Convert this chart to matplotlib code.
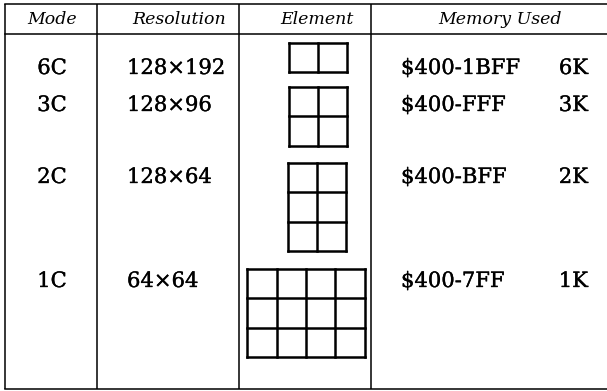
import matplotlib
matplotlib.use("Agg")
import matplotlib.pyplot as plt
import matplotlib.patheffects as pe

# ---- data ----
headers = ["Mode", "Resolution", "Element", "Memory Used"]
modes = ["6C", "3C", "2C", "1C"]
resolutions = ["128\u00d7192", "128\u00d796", "128\u00d764", "64\u00d764"]
element_cols = [2, 2, 2, 4]
element_rows = [1, 2, 3, 3]
memory_ranges = ["$400-1BFF", "$400-FFF", "$400-BFF", "$400-7FF"]
memory_sizes = ["6K", "3K", "2K", "1K"]

# ---- layout (pixel coordinates) ----
W, H = 607, 391
fig = plt.figure(figsize=(W / 100, H / 100), dpi=100)
ax = fig.add_axes([0, 0, 1, 1])
ax.set_xlim(0, W)
ax.set_ylim(H, 0)
ax.axis("off")

col_x = [5, 97, 239, 371]
top_y, head_y, bot_y = 4, 34, 389
lw_tab = 1.1
for x in col_x:
    ax.plot([x, x], [top_y, bot_y], color="black", lw=lw_tab, solid_capstyle="butt")
for y in (top_y, head_y, bot_y):
    ax.plot([col_x[0], W], [y, y], color="black", lw=lw_tab)

font = "DejaVu Serif"
thick = [pe.withStroke(linewidth=0.25, foreground="black")]
head_cx = [52, 179, 317, 500]
for h, cx in zip(headers, head_cx):
    ax.text(cx, 19, h, ha="center", va="center", fontsize=12.5,
            style="italic", family=font)

baselines = [74, 111, 183, 287]
box_tops = [43, 87, 163, 269]
cell = 29.3
box_cx = [318, 318, 317, 306]
fs = 15.2
for i in range(len(modes)):
    yb = baselines[i]
    kw = dict(va="baseline", fontsize=fs, family=font, path_effects=thick)
    ax.text(52, yb, modes[i], ha="center", **kw)
    ax.text(127, yb, resolutions[i], ha="left", **kw)
    ax.text(401, yb, memory_ranges[i], ha="left", **kw)
    ax.text(588, yb, memory_sizes[i], ha="right", **kw)
    nc, nr = element_cols[i], element_rows[i]
    x0 = box_cx[i] - nc * cell / 2
    y0 = box_tops[i]
    for c in range(nc + 1):
        ax.plot([x0 + c * cell] * 2, [y0, y0 + nr * cell], color="black", lw=1.8,
                solid_capstyle="projecting")
    for r in range(nr + 1):
        ax.plot([x0, x0 + nc * cell], [y0 + r * cell] * 2, color="black", lw=1.8,
                solid_capstyle="projecting")

fig.savefig("out.png", dpi=100)
